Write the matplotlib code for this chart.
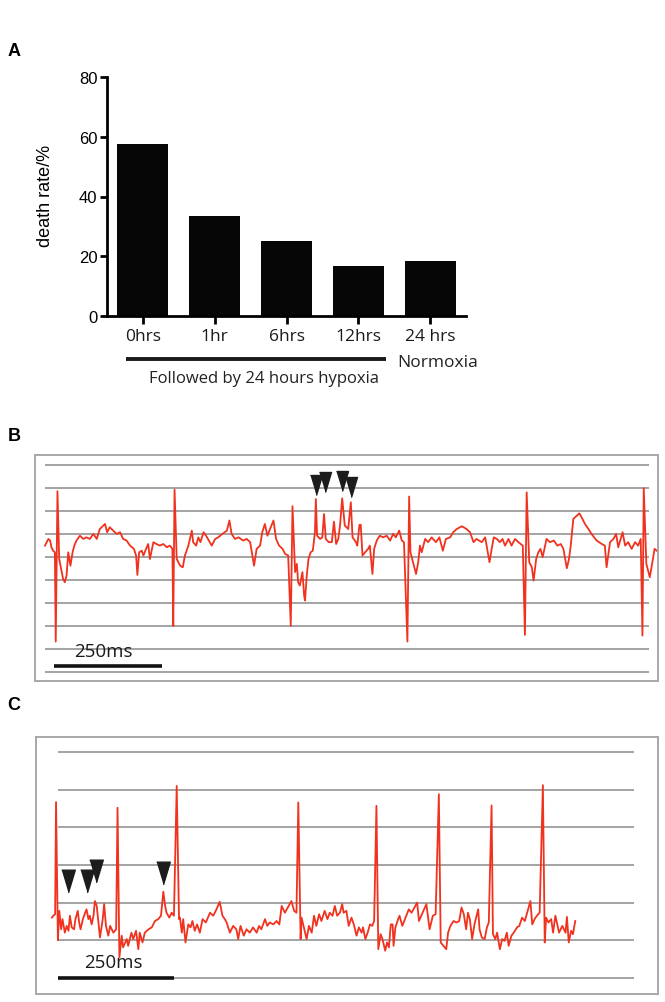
import numpy as np
import matplotlib.pyplot as plt

plt.rcParams['font.family'] = ['Liberation Sans', 'DejaVu Sans']

# ---- panel A: death rate after pre-treatment
groups = ['0hrs', '1hr', '6hrs', '12hrs', '24 hrs']
death_rate = [57.6, 33.4, 25.1, 16.8, 18.4]

# ---- panel B trace (time in ms, amplitude in grid divisions)
b_time = [0, 8, 12, 15, 19, 23, 25, 29, 33, 42,
          46, 50, 54, 59, 64, 68, 73, 81, 89, 96,
          104, 112, 120, 127, 139, 144, 150, 158, 166, 174,
          181, 189, 197, 206, 211, 214, 218, 224, 228, 234,
          239, 243, 251, 258, 266, 274, 282, 289, 295, 297,
          300, 305, 313, 319, 324, 332, 340, 343, 350, 355,
          360, 367, 373, 386, 394, 401, 411, 421, 427, 432,
          440, 448, 459, 467, 475, 484, 490, 498, 503, 509,
          515, 521, 529, 535, 542, 550, 556, 563, 569, 573,
          579, 583, 586, 590, 596, 600, 602, 606, 610, 615,
          620, 625, 627, 630, 637, 642, 646, 650, 657, 664,
          669, 674, 679, 683, 688, 694, 702, 708, 712, 720,
          723, 728, 731, 735, 741, 748, 752, 758, 762, 768,
          775, 783, 791, 799, 806, 812, 820, 826, 831, 839,
          843, 846, 852, 859, 864, 868, 872, 880, 887, 895,
          905, 913, 921, 928, 938, 945, 953, 965, 976, 984,
          992, 999, 1011, 1019, 1029, 1034, 1039, 1046, 1053, 1059,
          1065, 1073, 1080, 1088, 1096, 1106, 1111, 1115, 1121, 1127,
          1131, 1137, 1142, 1147, 1152, 1161, 1169, 1178, 1186, 1194,
          1200, 1208, 1213, 1217, 1223, 1231, 1237, 1244, 1250, 1258,
          1265, 1277, 1289, 1296, 1300, 1308, 1316, 1322, 1327, 1337,
          1343, 1350, 1358, 1366, 1373, 1379, 1383, 1386, 1392, 1400,
          1408, 1411, 1416]
b_volt = [5.49, 5.78, 5.71, 5.42, 5.27, 5.20, 1.33, 7.85, 4.91, 4.05,
          3.90, 4.19, 5.20, 4.62, 5.20, 5.49, 5.71, 5.92, 5.78, 5.85,
          5.78, 6.00, 5.78, 6.21, 6.43, 6.07, 6.29, 6.14, 6.00, 6.07,
          5.78, 5.71, 5.49, 5.35, 5.06, 4.22, 5.20, 5.27, 5.06, 5.35,
          5.56, 4.91, 5.64, 5.56, 5.49, 5.56, 5.42, 5.49, 5.35, 2.01,
          7.92, 4.91, 4.62, 4.55, 5.06, 5.49, 6.14, 5.64, 5.49, 5.85,
          5.64, 6.07, 5.92, 5.49, 5.78, 5.85, 6.00, 6.14, 6.58, 6.00,
          5.78, 5.85, 5.71, 5.78, 5.64, 4.62, 5.35, 5.49, 6.07, 6.43,
          5.92, 6.21, 6.58, 5.78, 5.49, 5.35, 5.13, 5.06, 2.01, 7.20,
          4.34, 4.70, 3.90, 3.76, 4.34, 3.32, 3.11, 4.19, 4.91, 5.20,
          5.27, 6.07, 7.51, 5.92, 5.78, 5.85, 6.86, 5.78, 5.64, 5.64,
          6.53, 5.56, 5.78, 6.36, 7.54, 6.36, 6.21, 7.37, 5.85, 5.64,
          5.49, 6.39, 6.39, 5.06, 5.20, 5.35, 5.49, 4.26, 5.35, 5.71,
          5.92, 5.85, 5.92, 5.71, 6.00, 5.85, 6.14, 5.71, 5.64, 1.33,
          7.62, 5.20, 4.77, 4.26, 4.77, 5.49, 5.20, 5.78, 5.64, 5.85,
          5.64, 5.85, 5.27, 5.78, 5.85, 6.07, 6.21, 6.33, 6.21, 6.07,
          5.64, 5.78, 5.64, 5.85, 4.77, 5.35, 5.85, 5.78, 5.64, 5.78,
          5.49, 5.78, 5.49, 5.78, 5.64, 5.49, 1.62, 7.80, 4.77, 4.55,
          3.97, 4.91, 5.20, 5.35, 4.99, 5.78, 5.64, 5.71, 5.49, 5.56,
          5.35, 4.51, 4.91, 5.49, 6.65, 6.79, 6.89, 6.65, 6.43, 6.21,
          6.00, 5.71, 5.56, 5.49, 4.55, 5.64, 5.78, 6.00, 5.42, 6.07,
          5.49, 5.64, 5.35, 5.64, 5.49, 5.78, 1.59, 7.98, 4.70, 4.12,
          4.99, 5.35, 5.27]
b_arrow_t = [627, 648, 687, 708]
b_arrow_v = [8.10, 8.24, 8.31, 8.02]

# ---- panel C trace
c_time = [-14, -11, -7, -5, -1, 2, 6, 9, 14, 18,
          22, 25, 29, 34, 37, 42, 45, 48, 53, 58,
          61, 65, 68, 72, 76, 79, 83, 86, 90, 96,
          99, 103, 108, 112, 119, 125, 128, 132, 137, 140,
          148, 151, 158, 162, 168, 173, 176, 182, 187, 195,
          202, 209, 216, 222, 227, 231, 234, 240, 245, 250,
          256, 261, 263, 267, 270, 275, 281, 286, 290, 295,
          300, 306, 312, 319, 328, 335, 342, 349, 355, 360,
          364, 371, 378, 385, 389, 394, 401, 407, 414, 421,
          429, 434, 439, 447, 452, 457, 465, 472, 478, 483,
          490, 504, 510, 515, 519, 524, 526, 537, 542, 548,
          553, 558, 564, 569, 576, 582,
          587, 593, 598, 603, 609, 614, 617, 623, 628, 634,
          639, 645, 650, 656, 659, 664, 669, 674, 679, 683,
          688, 692, 697, 701, 707, 711, 715, 719, 723, 725,
          729, 735, 738, 744, 751, 758, 764, 776, 780, 785,
          796, 803, 810, 816, 823, 827, 839, 843, 848, 855,
          861, 867, 872, 877, 882, 886, 890, 895, 900, 908,
          911, 916, 922, 927, 931, 937, 940, 945, 949, 955,
          960, 965, 970, 974, 980, 985, 992, 997, 1003, 1009,
          1016, 1021, 1025, 1030, 1035, 1041, 1048, 1052, 1055, 1060,
          1066, 1070, 1075, 1083, 1090, 1097, 1100, 1104, 1109, 1113,
          1118]
c_volt = [1.60, 1.65, 1.69, 4.67, 1.00, 1.78, 1.29, 1.56, 1.20, 1.38,
          1.25, 1.65, 1.34, 1.29, 1.56, 1.78, 1.47, 1.29, 1.56, 1.73,
          1.82, 1.56, 1.65, 1.42, 1.65, 2.04, 1.91, 1.56, 1.07, 1.56,
          1.96, 1.38, 1.12, 1.38, 1.20, 1.29, 4.52, 0.54, 1.12, 0.81,
          1.03, 0.85, 1.20, 1.03, 1.25, 0.76, 1.20, 0.94, 1.20, 1.29,
          1.34, 1.51, 1.56, 1.65, 2.29, 1.91, 1.73, 1.60, 1.73, 1.65,
          5.10, 1.56, 1.60, 1.20, 1.56, 0.94, 1.42, 1.34, 1.51, 1.25,
          1.42, 1.20, 1.56, 1.47, 1.73, 1.65, 1.82, 2.02, 1.65, 1.56,
          1.47, 1.20, 1.38, 1.29, 1.03, 1.38, 1.12, 1.29, 1.20, 1.34,
          1.20, 1.38, 1.29, 1.56, 1.38, 1.47, 1.42, 1.51, 1.42, 1.91,
          1.73, 2.04, 1.78, 1.73, 4.66, 1.03, 1.60, 1.03, 1.38, 1.20,
          1.65, 1.38, 1.69, 1.51, 1.78, 1.56,
          1.73, 1.65, 1.91, 1.65, 1.73, 1.96, 1.73, 1.78, 1.38, 1.60,
          1.42, 1.12, 1.34, 1.20, 1.34, 1.03, 1.20, 1.42, 1.38, 1.51,
          4.57, 0.76, 1.16, 1.03, 0.72, 0.94, 0.81, 1.42, 1.42, 0.85,
          1.34, 1.56, 1.65, 1.38, 1.60, 1.82, 1.73, 2.00, 1.51, 1.65,
          1.96, 1.29, 1.65, 1.69, 4.88, 0.94, 0.76, 1.20, 1.38, 1.51,
          1.47, 1.51, 1.87, 1.69, 1.29, 1.73, 1.56, 1.03, 1.42, 1.82,
          1.29, 1.07, 1.03, 1.34, 1.47, 4.58, 1.16, 1.03, 1.20, 0.76,
          1.03, 0.98, 1.20, 0.85, 1.12, 1.20, 1.34, 1.38, 1.60, 1.51,
          1.82, 2.04, 1.42, 1.56, 1.65, 1.73, 5.12, 0.94, 1.60, 1.47,
          1.56, 1.20, 1.65, 1.20, 1.38, 1.20, 1.62, 0.94, 1.25, 1.16,
          1.51]
c_arrow_t = [20, 61, 81, 227]
c_arrow_v = [2.57, 2.57, 2.83, 2.78]

scale_ms = 250
red = '#f0321e'
grid_gray = '#9c9c9c'
box_gray = '#a8a8a8'
myriad = ['Open Sans', 'DejaVu Sans']

W, H = 665, 1003
fig = plt.figure(figsize=(W / 100, H / 100), dpi=100)

# ================= A =================
axA = fig.add_axes([107 / W, 1 - 317 / H, 359 / W, 239 / H])
x = np.arange(len(groups))
axA.bar(x, death_rate, width=0.71, color='#060606', edgecolor='none')
axA.set_xlim(-0.5, 4.5)
axA.set_ylim(0, 80)
for s in ['top', 'right']:
    axA.spines[s].set_visible(False)
for s in ['left', 'bottom']:
    axA.spines[s].set_linewidth(2.0)
axA.set_yticks([0, 20, 40, 60, 80])
axA.tick_params(axis='y', direction='out', length=5, width=2, labelsize=12, pad=2)
axA.set_xticks(x)
axA.set_xticklabels(groups, family=myriad, color='#1a1a1a')
axA.tick_params(axis='x', direction='out', length=6, width=2, labelsize=12.5, pad=3)
fig.text(45 / W, 1 - 196 / H, 'death rate/%', rotation=90, ha='center', va='center',
         fontsize=13)

axA.plot([-0.24, 3.39], [-14.4, -14.4], color='#1a1a1a', lw=2.8,
         solid_capstyle='butt', clip_on=False)
axA.text(4.1, -15.3, 'Normoxia', ha='center', va='center', fontsize=12.5,
         family=myriad, color='#222222')
axA.text(1.69, -20.6, 'Followed by 24 hours hypoxia', ha='center', va='center',
         fontsize=12, family=myriad, color='#222222')

tri = [(-0.3, 0.5), (0.3, 0.5), (0.0, -0.5)]


def trace_panel(ax, t, v, levels, grid_end, arrows_t, arrows_v, ms, bar_start, bar_v, text_xy):
    ax.set_xticks([])
    ax.set_yticks([])
    for s in ax.spines.values():
        s.set_color(box_gray)
        s.set_linewidth(1.4)
    ax.hlines(levels, 0, grid_end, color=grid_gray, lw=1.3, zorder=1)
    ax.plot(t, v, color=red, lw=1.3, zorder=2)
    ax.plot(arrows_t, arrows_v, ls='none', marker=tri, ms=ms, color='#1c1c1c', zorder=3)
    ax.plot([bar_start, bar_start + scale_ms], [bar_v, bar_v], color='#111111', lw=2.6,
            solid_capstyle='butt', zorder=3)
    ax.text(text_xy[0], text_xy[1], '250ms', ha='center', va='center', fontsize=13.5,
            family=myriad, color='#1a1a1a')


# ================= B =================
axB = fig.add_axes([35 / W, 1 - 682 / H, 623 / W, 226 / H])
axB.set_xlim(-23, 1419)
axB.set_ylim(-0.38, 9.42)
trace_panel(axB, b_time, b_volt, range(10), 1398, b_arrow_t, b_arrow_v, 14.4,
            21, 0.29, (135, 0.93))

# ================= C =================
axC = fig.add_axes([35.7 / W, 1 - 995 / H, 622.3 / W, 257 / H])
axC.set_xlim(-49, 1297)
axC.set_ylim(-0.43, 6.40)
trace_panel(axC, c_time, c_volt, range(7), 1246, c_arrow_t, c_arrow_v, 16.3,
            0, 0.0, (119, 0.42))

for lab, yy in [('A', 52), ('B', 437), ('C', 706)]:
    fig.text(14 / W, 1 - yy / H, lab, ha='center', va='center', fontsize=13,
             fontweight='bold')

fig.savefig('out.png', dpi=100)
